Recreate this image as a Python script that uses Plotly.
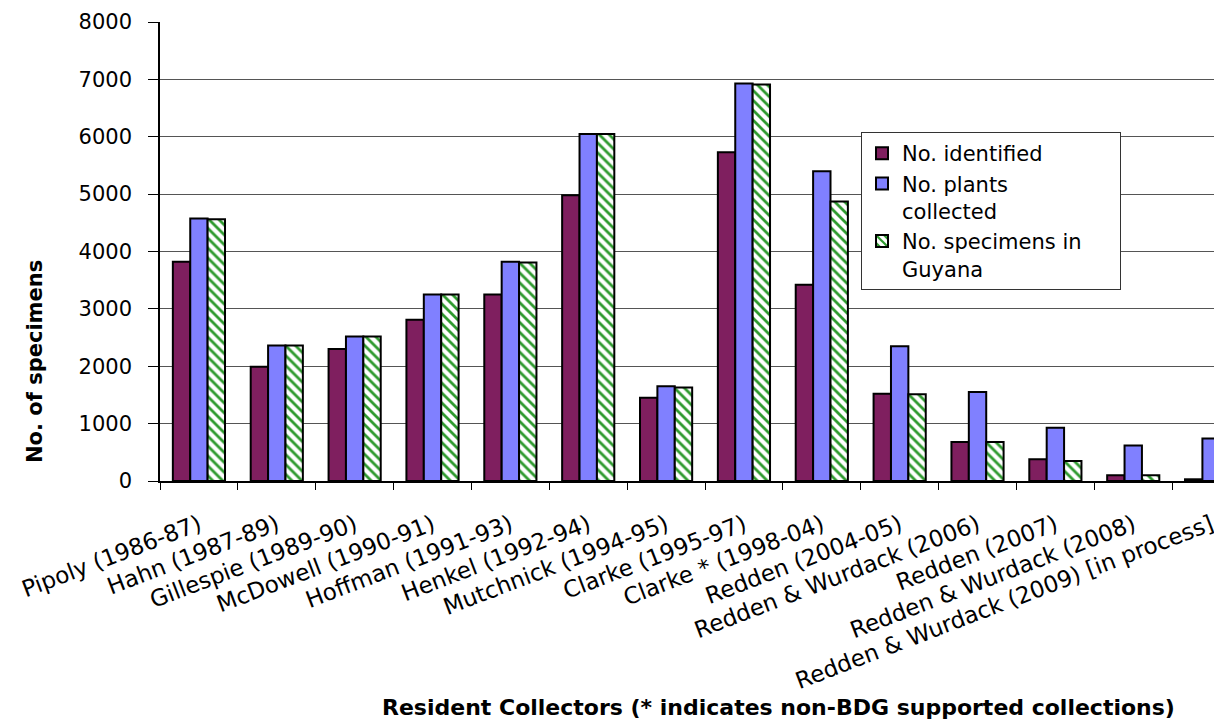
import plotly.graph_objects as go

categories = [
    "Pipoly (1986-87)", "Hahn (1987-89)", "Gillespie (1989-90)", "McDowell (1990-91)",
    "Hoffman (1991-93)", "Henkel (1992-94)", "Mutchnick (1994-95)", "Clarke (1995-97)",
    "Clarke * (1998-04)", "Redden (2004-05)", "Redden & Wurdack (2006)", "Redden (2007)",
    "Redden & Wurdack (2008)", "Redden & Wurdack (2009) [in process]",
]
identified = [3820, 1990, 2300, 2810, 3250, 4980, 1450, 5730, 3420, 1520, 680, 380, 100, 30]
plants = [4575, 2360, 2520, 3250, 3820, 6050, 1650, 6930, 5400, 2350, 1550, 930, 620, 740]
guyana = [4560, 2360, 2520, 3250, 3810, 6050, 1630, 6910, 4870, 1510, 680, 350, 100, 0]

y_ticks = [0, 1000, 2000, 3000, 4000, 5000, 6000, 7000, 8000]

FONT = "DejaVu Sans"
line = dict(color="black", width=2)
NBSP = "\u00a0"

# page has an 8px body margin, so the figure is 8px smaller and shifted
PLOT_W = 1062
PLOT_H = 459


def xp(px):
    return (px - 160) / PLOT_W


def yp(py):
    return (481 - py) / PLOT_H


fig = go.Figure()
fig.add_trace(go.Bar(
    x=categories, y=identified, name="No. identified",
    marker=dict(color="#7f1f5f", line=line),
))
fig.add_trace(go.Bar(
    x=categories, y=plants, name="No. plants<br>collected",
    marker=dict(color="#8080ff", line=line),
))
fig.add_trace(go.Bar(
    x=categories, y=guyana, name="No. specimens in" + NBSP * 5 + "<br>Guyana",
    marker=dict(color="white", line=line,
                pattern=dict(shape="\\", fgcolor="#2e9a2e", bgcolor="white",
                             size=7, solidity=0.4, fillmode="replace")),
))

fig.update_layout(
    width=1214, height=715,
    margin=dict(l=152, r=0, t=14, b=242, autoexpand=False),
    paper_bgcolor="white", plot_bgcolor="white",
    barmode="group", bargap=0.33, bargroupgap=0,
    font=dict(family=FONT, color="black", size=19),
    showlegend=True,
    legend=dict(
        x=xp(861), y=yp(132), xanchor="left", yanchor="top",
        bgcolor="white", bordercolor="#333333", borderwidth=1,
        font=dict(family=FONT, size=21, color="black"),
        valign="top", tracegroupgap=0, itemsizing="constant",
    ),
    xaxis=dict(
        type="category", range=[-0.5, 13.14],
        showline=True, linecolor="black", linewidth=1.5,
        ticks="outside", tickson="boundaries", ticklen=7, tickcolor="black",
        tickangle=-21, tickfont=dict(family=FONT, size=23, color="black"),
        ticklabelstandoff=20,
        showgrid=False,
    ),
    yaxis=dict(
        range=[0, 8000], tickvals=y_ticks, ticktext=[str(v) for v in y_ticks],
        showline=True, linecolor="black", linewidth=1.5,
        ticks="outside", ticklen=10, tickcolor="black",
        tickfont=dict(family=FONT, size=21, color="black"),
        ticklabelstandoff=12,
        showgrid=True, gridcolor="#555555", gridwidth=1,
        zeroline=False,
    ),
    annotations=[
        dict(text="<b>No. of specimens</b>", textangle=-90, showarrow=False,
             xref="paper", yref="paper", x=xp(35), y=yp(362),
             xanchor="center", yanchor="middle",
             font=dict(family=FONT, size=21, color="black")),
        dict(text="<b>Resident Collectors (* indicates non-BDG supported collections)</b>",
             showarrow=False, xref="paper", yref="paper",
             x=xp(778), y=yp(707),
             xanchor="center", yanchor="middle",
             font=dict(family=FONT, size=22, color="black")),
    ],
)

fig.write_html("out.html")
